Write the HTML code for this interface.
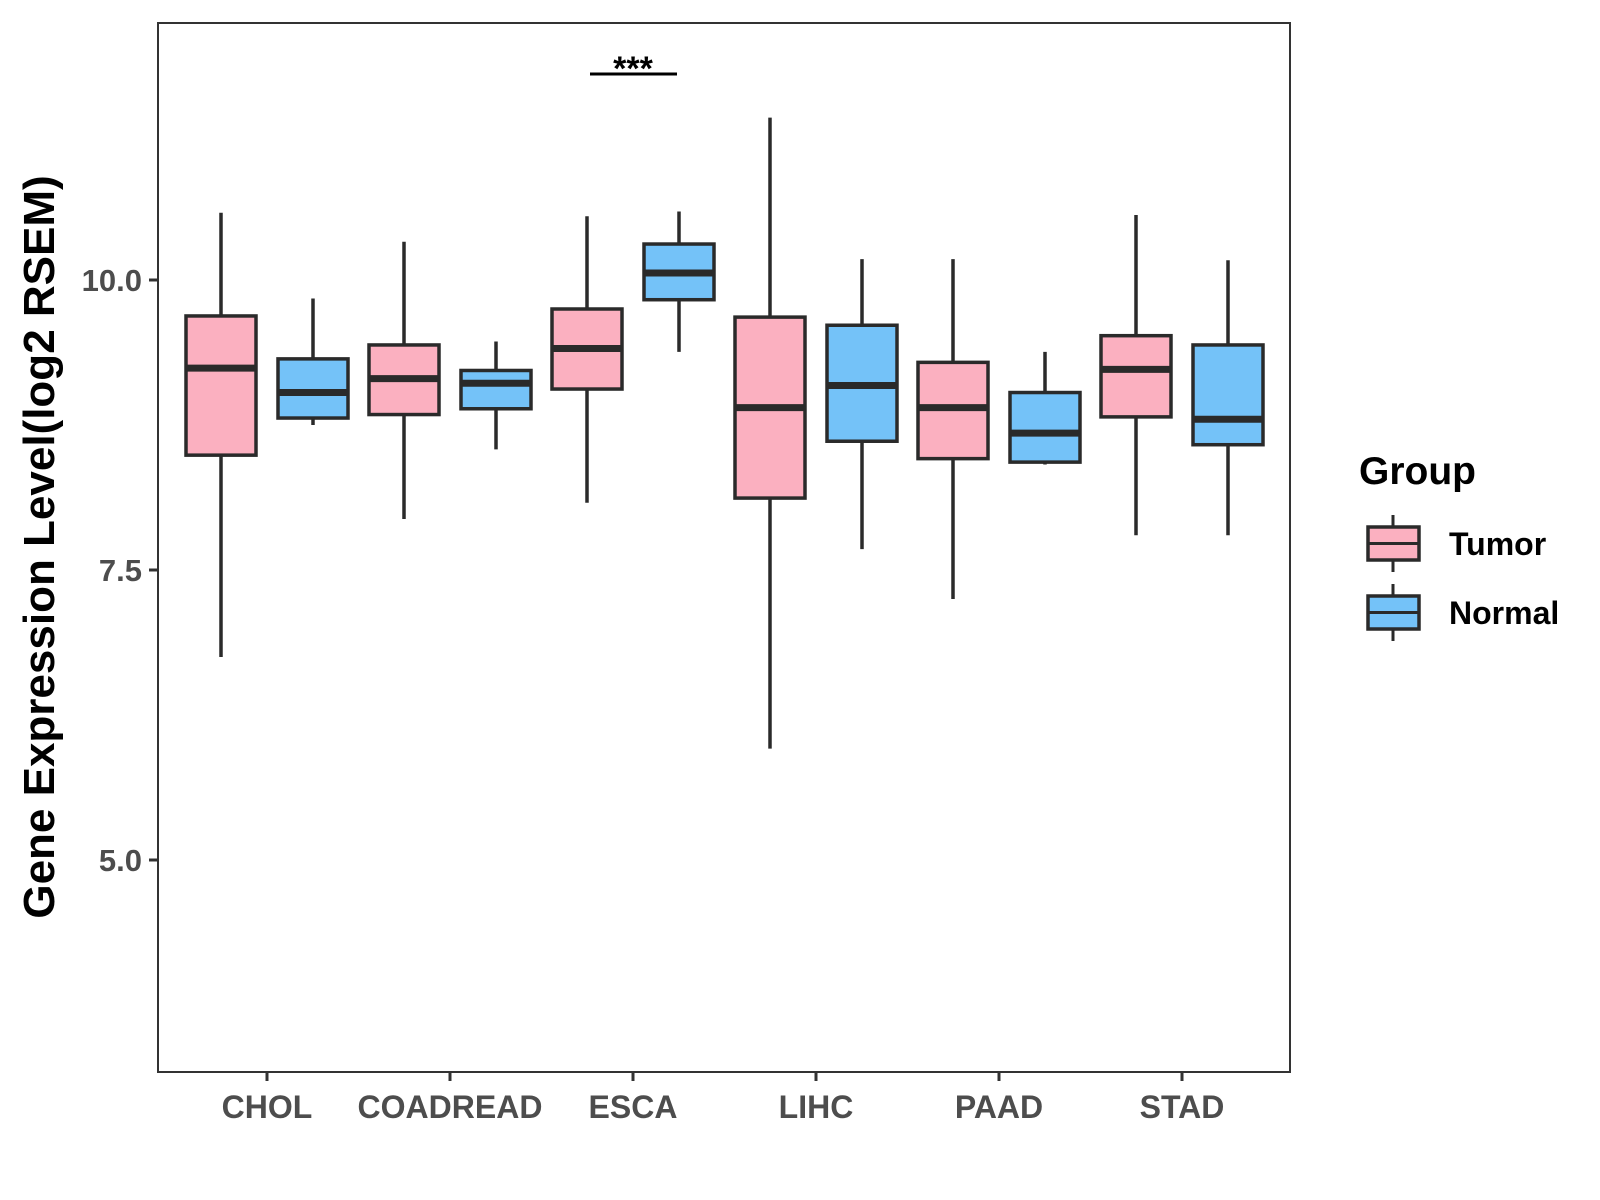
<!DOCTYPE html>
<html><head><meta charset="utf-8"><style>body{margin:0;background:#fff}svg{display:block}text{font-family:"Liberation Sans",Arial,sans-serif;font-weight:bold}</style></head>
<body>
<svg id="c" width="1600" height="1200" viewBox="0 0 1600 1200"></svg>
<script>
const categories=["CHOL","COADREAD","ESCA","LIHC","PAAD","STAD"];
const groups=["Tumor","Normal"];
const tumorStats=[[6.75,8.49,9.24,9.69,10.58],[7.94,8.84,9.15,9.44,10.33],[8.08,9.06,9.41,9.75,10.55],[5.96,8.12,8.90,9.68,11.40],[7.25,8.46,8.90,9.29,10.18],[7.80,8.82,9.23,9.52,10.56]];
const normalStats=[[8.75,8.81,9.03,9.32,9.84],[8.54,8.89,9.11,9.22,9.47],[9.38,9.83,10.06,10.31,10.59],[7.68,8.61,9.09,9.61,10.18],[8.41,8.43,8.68,9.03,9.38],[7.80,8.58,8.80,9.44,10.17]];
const yTicks=[5.0,7.5,10.0];
const yTickLabels=["5.0","7.5","10.0"];
const sig=[{cat:2,label:"***"}];
const colors=["#FBB0C0","#74C2F8"];
const NS="http://www.w3.org/2000/svg",svg=document.getElementById("c");
const P={l:158,r:1290,t:23,b:1072};
const y=v=>280+(10-v)*116;
const x=i=>267+i*183;
function el(t,a,p){const e=document.createElementNS(NS,t);for(const k in a)e.setAttribute(k,a[k]);(p||svg).appendChild(e);return e;}
const panel=el("rect",{x:P.l,y:P.t,width:P.r-P.l,height:P.b-P.t,fill:"none",stroke:"#333","stroke-width":2});


yTicks.forEach((v,i)=>{
 const tk=el("line",{x1:P.l-9,x2:P.l,y1:y(v),y2:y(v),stroke:"#333","stroke-width":3});
 
 
 const t=el("text",{x:P.l-16,y:y(v)+11,"text-anchor":"end","font-size":31,fill:"#4d4d4d"});t.textContent=yTickLabels[i];
 
 
});
categories.forEach((c,i)=>{
 const tk=el("line",{x1:x(i),x2:x(i),y1:P.b,y2:P.b+9,stroke:"#333","stroke-width":3});
 
 
 const t=el("text",{x:x(i),y:P.b+46,"text-anchor":"middle","font-size":32,fill:"#4d4d4d"});t.textContent=c;
 
 
 [tumorStats[i],normalStats[i]].forEach((s,g)=>{
  const cx=x(i)+(g?46:-46),w=70;
  const gEl=el("g",{});
  
  
  el("line",{x1:cx,x2:cx,y1:y(s[4]),y2:y(s[0]),stroke:"#2a2a2a","stroke-width":3.5},gEl);
  el("rect",{x:cx-w/2,y:y(s[3]),width:w,height:y(s[1])-y(s[3]),fill:colors[g],stroke:"#2a2a2a","stroke-width":3.5},gEl);
  el("line",{x1:cx-w/2,x2:cx+w/2,y1:y(s[2]),y2:y(s[2]),stroke:"#2a2a2a","stroke-width":7},gEl);
 });
});
sig.forEach(s=>{
 const l=el("line",{x1:x(s.cat)-43,x2:x(s.cat)+44,y1:74,y2:74,stroke:"#000","stroke-width":3});
 
 
 const t=el("text",{x:x(s.cat),y:80,"text-anchor":"middle","font-size":34,fill:"#000"});t.textContent=s.label;
 
 
});
const yt=el("text",{x:0,y:0,transform:"translate(54,547) rotate(-90)","text-anchor":"middle","font-size":44,fill:"#000"});yt.textContent="Gene Expression Level(log2 RSEM)";


const lt=el("text",{x:1359,y:484,"font-size":39,fill:"#000"});lt.textContent="Group";


groups.forEach((gn,g)=>{
 const top=527+g*69,cx=1393;
 const ge=el("g",{});
 
 
 el("line",{x1:cx,x2:cx,y1:top-12,y2:top+45,stroke:"#2a2a2a","stroke-width":3},ge);
 el("rect",{x:1368,y:top,width:51,height:33,fill:colors[g],stroke:"#2a2a2a","stroke-width":3.5},ge);
 el("line",{x1:1368,x2:1419,y1:top+16.5,y2:top+16.5,stroke:"#2a2a2a","stroke-width":3},ge);
 const t=el("text",{x:1449,y:top+28,"font-size":32,fill:"#000"},ge);t.textContent=gn;
});
</script>
</body></html>
